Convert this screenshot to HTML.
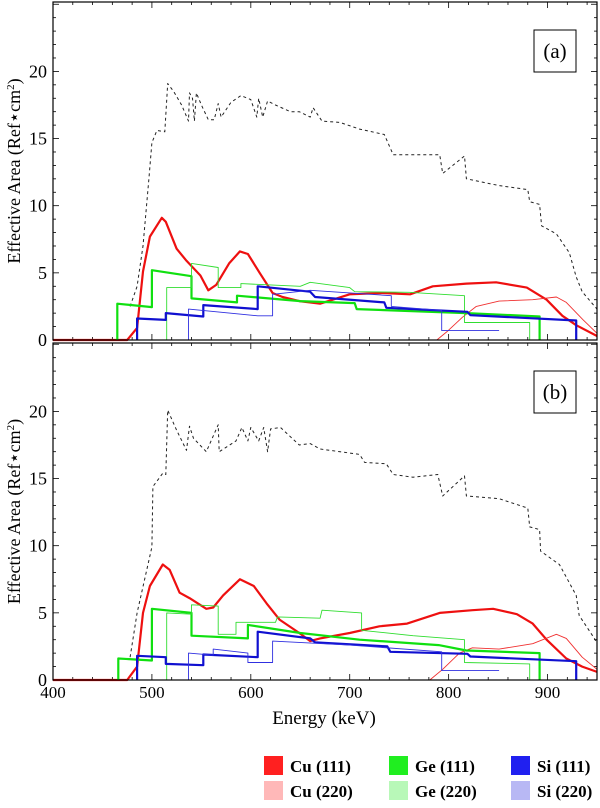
<!DOCTYPE html>
<html><head><meta charset="utf-8"><style>
body{margin:0;background:#fff;}
svg text{font-family:"Liberation Serif",serif;}
</style></head><body>
<svg id="c" width="600" height="803" viewBox="0 0 600 803" xmlns="http://www.w3.org/2000/svg"></svg>
<script>
const xTicks=[400,500,600,700,800,900];
const yTicks=[0,5,10,15,20];
const panelLabels=["(a)","(b)"];
const legendLabels=["Cu (111)","Ge (111)","Si (111)","Cu (220)","Ge (220)","Si (220)"];
const legendColors=["#ff2020","#20ee20","#2020f0","#ffb8b8","#b8f8b8","#b8b8f4"];
// panel (a)
const aTotal=[[478,2.5],[485,4],[491,7],[497,12],[500,14.7],[505,15.6],[513,15.5],[516,19.1],[522,18.5],[530,17.5],[537,16.3],[538,18.4],[541,18],[543,16.3],[545,18.4],[550,17.5],[557,16.4],[563,16.4],[567,17.6],[570,16.6],[580,17.7],[590,18.2],[600,17.9],[606,16.6],[608,18],[612,16.6],[617,17.8],[625,17.5],[640,17],[649,17],[660,16.6],[663,17.3],[672,16.3],[690,16.2],[710,15.7],[735,15.3],[744,13.8],[791,13.8],[794,12.4],[816,13.7],[818,12],[851,11.5],[880,11.2],[882,10.3],[892,10.1],[894,8.5],[909,7.9],[922,6.5],[929,4.7],[935,3.6],[950,2.3]];
const aCu111=[[400,0],[475,0],[485,0.9],[491,5.1],[498,7.7],[510,9.1],[514,8.8],[525,6.8],[535,5.9],[549,4.8],[557,3.7],[565,4.1],[578,5.7],[589,6.6],[597,6.4],[609,5],[622,3.5],[632,3.2],[649,2.9],[670,2.7],[700,3.4],[733,3.5],[761,3.4],[784,4.0],[818,4.2],[848,4.3],[879,3.9],[899,3.0],[915,1.8],[929,1.1],[950,0.3]];
const aCu220=[[788,0],[798,0.6],[814,1.7],[828,2.5],[851,2.9],[885,3.0],[909,3.2],[919,2.8],[936,1.5],[950,0.5]];
const aGe111=[[465,0],[465,2.7],[500,2.45],[500,5.2],[540,4.75],[540,3.1],[586,2.8],[586,3.3],[650,2.9],[705,2.75],[707,2.3],[818,2.0],[892,1.75],[892,0]];
const aGe220=[[515,0],[515,3.9],[540,3.9],[540,5.7],[567,5.4],[567,3.9],[590,3.9],[590,4.2],[650,4.0],[660,4.3],[700,3.9],[705,3.6],[760,3.55],[816,3.3],[816,1.3],[882,1.3],[882,0]];
const aSi111=[[485,0],[485,1.6],[514,1.5],[514,2.0],[552,1.75],[552,2.6],[607,2.3],[607,4.0],[660,3.6],[665,3.2],[735,2.8],[737,2.4],[819,2.1],[822,1.85],[929,1.45],[929,0]];
const aSi220=[[537,0],[537,2.3],[607,1.8],[622,1.8],[622,3.4],[660,3.7],[742,3.3],[742,2.5],[793,2.2],[793,0.7],[851,0.7]];
// panel (b)
const bTotal=[[478,1.7],[485,5],[500,9.9],[501,14.4],[511,15.4],[514,15.3],[516,20.1],[525,18.6],[535,17.1],[538,18.9],[542,18],[555,17],[567,19],[568,17],[585,17.8],[591,18.8],[597,17.8],[600,18.8],[608,17.8],[613,18.8],[617,17],[620,18.7],[630,18.8],[649,17.5],[660,17.6],[670,17.2],[710,16.8],[715,16.2],[737,16.1],[744,15.3],[764,15.1],[789,15.3],[794,13.7],[816,15.2],[818,13.7],[851,13.5],[880,12.8],[882,11.4],[892,11.2],[893,9.6],[912,8.6],[929,6.3],[932,4.8],[950,2.8]];
const bCu111=[[400,0],[475,0],[485,1.0],[491,5.0],[498,7.0],[511,8.6],[518,8.2],[528,6.5],[538,6.1],[555,5.3],[562,5.4],[572,6.3],[589,7.5],[603,7.0],[616,5.7],[629,4.5],[649,3.5],[660,2.9],[670,3.1],[700,3.5],[730,4.0],[758,4.2],[791,5.0],[824,5.2],[845,5.3],[869,4.9],[885,4.2],[899,3.0],[919,1.6],[935,1.0],[950,0.6]];
const bCu220=[[781,0],[794,0.8],[811,2.0],[824,2.4],[851,2.3],[885,2.7],[909,3.4],[919,3.1],[935,1.7],[950,0.8]];
const bGe111=[[466,0],[466,1.6],[500,1.45],[500,5.3],[540,5.0],[540,3.3],[597,3.1],[597,4.1],[650,3.5],[710,3.0],[790,2.6],[818,2.2],[892,2.0],[892,0]];
const bGe220=[[515,0],[515,5.0],[540,4.9],[540,5.6],[567,5.5],[567,3.4],[585,3.4],[585,4.3],[625,4.3],[627,4.7],[670,4.6],[672,5.2],[712,5.0],[712,3.7],[764,3.3],[816,3.0],[816,1.3],[882,1.2],[882,0]];
const bSi111=[[485,0],[485,1.8],[514,1.7],[514,1.2],[552,1.1],[552,1.9],[607,1.7],[607,3.6],[660,3.1],[665,2.8],[738,2.5],[741,2.1],[819,1.95],[822,1.75],[929,1.4],[929,0]];
const bSi220=[[537,0],[537,2.0],[562,1.85],[562,2.3],[597,2.0],[597,1.3],[622,1.3],[622,2.9],[700,2.6],[793,2.1],[793,0.7],[851,0.7]];

const NS="http://www.w3.org/2000/svg";
const svg=document.getElementById('c');
function mk(t,at,parent){const e=document.createElementNS(NS,t);for(const k in at)e.setAttribute(k,at[k]);(parent||svg).appendChild(e);return e;}
const X0=53,X1=597,E0=400,E1=950;
function xs(E){return X0+(E-E0)*(X1-X0)/(E1-E0);}
const panels=[{top:2,base:340},{top:343,base:680}];
const PXU=13.43;
const sets=[[aTotal,aCu111,aCu220,aGe111,aGe220,aSi111,aSi220],[bTotal,bCu111,bCu220,bGe111,bGe220,bSi111,bSi220]];
const styles=[
 {n:'total-curve',c:'#222',w:1,d:'3,3'},
 {n:'cu111-curve',c:'#ee1010',w:2.2},
 {n:'cu220-curve',c:'#f03030',w:0.9},
 {n:'ge111-curve',c:'#10e010',w:2.2},
 {n:'ge220-curve',c:'#30dd30',w:0.9},
 {n:'si111-curve',c:'#1010d0',w:2.2},
 {n:'si220-curve',c:'#3030e0',w:0.9}];
panels.forEach((p,pi)=>{
 const ys=v=>p.base-v*PXU;
 const g=mk('g',{});
 
 
 for(let E=400;E<=950;E+=20){const x=xs(E);const maj=E%100===0;const L=maj?6:3;
  mk('line',{x1:x,x2:x,y1:p.base,y2:p.base-L,stroke:'#000','stroke-width':0.8},g);
  mk('line',{x1:x,x2:x,y1:p.top,y2:p.top+L,stroke:'#000','stroke-width':0.8},g);}
 for(let v=0;v<=25;v++){const y=ys(v);if(y<p.top)break;const maj=v%5===0;const L=maj?6:3;
  mk('line',{x1:X0,x2:X0+L,y1:y,y2:y,stroke:'#000','stroke-width':0.8},g);
  mk('line',{x1:X1,x2:X1-L,y1:y,y2:y,stroke:'#000','stroke-width':0.8},g);}
 yTicks.forEach(v=>{const t=mk('text',{x:47,y:ys(v)+6,'text-anchor':'end','font-size':18},g);t.textContent=v;
  
  });
 const yt=mk('text',{x:0,y:0,'text-anchor':'middle','font-size':18,transform:`translate(20,${(p.top+p.base)/2}) rotate(-90)`},g);
 yt.innerHTML='Effective Area (Ref\u22C6cm<tspan dy="-6" font-size="11">2</tspan><tspan dy="6">)</tspan>';
 
 
 sets[pi].forEach((ser,si)=>{const s=styles[si];
  const pl=mk('polyline',{points:ser.map(q=>xs(q[0]).toFixed(1)+','+ys(q[1]).toFixed(1)).join(' '),fill:'none',stroke:s.c,'stroke-width':s.w,'stroke-linejoin':'round'},g);
  if(s.d)pl.setAttribute('stroke-dasharray',s.d);
  
  });
 mk('rect',{x:X0,y:p.top,width:X1-X0,height:p.base-p.top,fill:'none',stroke:'#000','stroke-width':1.2},g);
 const by=p.top+28;
 const bx=mk('rect',{x:534,y:by,width:42,height:42,fill:'#fff',stroke:'#000','stroke-width':1},g);
 
 
 const lt=mk('text',{x:555,y:by+28,'text-anchor':'middle','font-size':21},g);lt.textContent=panelLabels[pi];
 
 
});
xTicks.forEach(E=>{const t=mk('text',{x:xs(E),y:698,'text-anchor':'middle','font-size':17});t.textContent=E;
 
 });
const xt=mk('text',{x:324,y:724,'text-anchor':'middle','font-size':19});xt.textContent='Energy (keV)';


const lx=[264,389,511],ly=[756,781];
legendLabels.forEach((l,i)=>{const col=i%3,row=Math.floor(i/3);
 const g=mk('g',{});
 
 
 mk('rect',{x:lx[col],y:ly[row],width:19,height:19,fill:legendColors[i]},g);
 const t=mk('text',{x:lx[col]+26,y:ly[row]+16,'font-size':17,'font-weight':'bold'},g);t.textContent=l;});
</script>
</body></html>
